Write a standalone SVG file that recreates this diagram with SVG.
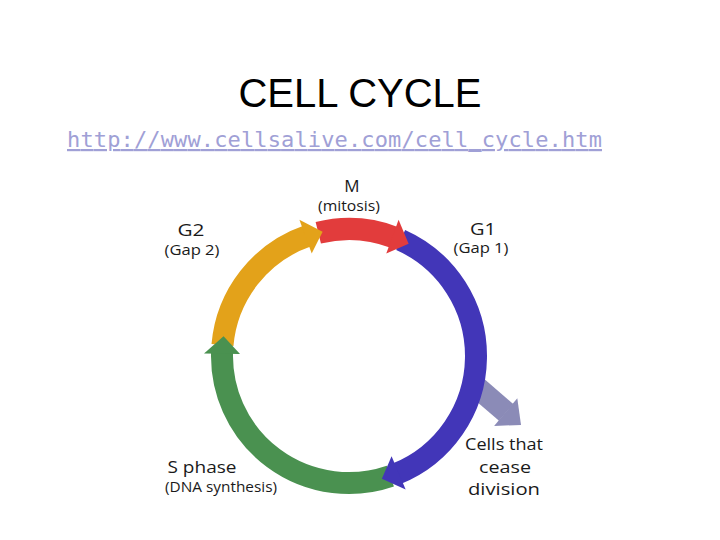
<svg xmlns="http://www.w3.org/2000/svg" width="720" height="540" viewBox="0 0 720 540">
<style>
.title{font-family:"Liberation Sans",Arial,sans-serif;font-size:40px;fill:#000}
.url{font-family:"DejaVu Sans Mono","Liberation Mono",monospace;font-size:22px;fill:#a0a0d6;text-decoration:underline}
.lbl{font-family:"Open Sans","Liberation Sans",sans-serif;font-size:17px;fill:#1a1a1a}
.sub{font-family:"Open Sans","Liberation Sans",sans-serif;font-size:14px;fill:#1a1a1a}
.arc{fill:none;stroke-width:22;stroke-linecap:butt}
</style>
<rect width="720" height="540" fill="#fff"/>
<text class="title" x="360" y="107" text-anchor="middle">CELL CYCLE</text>
<text class="url" x="67" y="147" textLength="535" lengthAdjust="spacing">http://www.cellsalive.com/cell_cycle.htm</text>

<g id="connectors">
  <g id="exit-arrow" fill="#8b8bb7">
    <polygon points="464.9,391.4 479.1,374.6 513.2,404.0 499.0,420.8"/>
    <polygon points="494.1,425.9 517.3,398.3 521,425"/>
  </g>
  <g id="ring-bodies">
    <path class="arc" stroke="#e23c3c" d="M318.28,232.77 A127,127 0 0 1 394.51,237.44"/>
    <path class="arc" stroke="#4236b8" d="M400.65,239.98 A127,127 0 0 1 396.57,473.75"/>
    <path class="arc" stroke="#4a9150" d="M390.35,476.08 A127,127 0 0 1 222.08,351.57"/>
    <path class="arc" stroke="#e3a21a" d="M222.48,344.93 A127,127 0 0 1 307.65,235.92"/>
  </g>
  <g id="ring-heads">
    <polygon fill="#e23c3c" points="386.28,253.57 398.59,219.74 408.62,243.87"/>
    <polygon fill="#4236b8" points="391.59,456.33 405.65,489.47 381.87,478.67"/>
    <polygon fill="#4a9150" points="240.02,354.10 204.02,353.47 223.56,336.13"/>
    <polygon fill="#e3a21a" points="311.72,253.57 299.41,219.74 322.60,231.78"/>
  </g>
</g>

<g id="node-m">
  <text class="lbl" x="352" y="192" text-anchor="middle">M</text>
  <text class="sub" x="349" y="211" text-anchor="middle" font-size="13" textLength="62" lengthAdjust="spacingAndGlyphs">(mitosis)</text>
</g>
<g id="node-g2">
  <text class="lbl" x="191" y="236" text-anchor="middle" textLength="27" lengthAdjust="spacingAndGlyphs">G2</text>
  <text class="sub" x="192" y="255" text-anchor="middle" textLength="55" lengthAdjust="spacingAndGlyphs">(Gap 2)</text>
</g>
<g id="node-g1">
  <text class="lbl" x="483" y="235" text-anchor="middle" textLength="26" lengthAdjust="spacingAndGlyphs">G1</text>
  <text class="sub" x="481" y="253" text-anchor="middle" textLength="55" lengthAdjust="spacingAndGlyphs">(Gap 1)</text>
</g>
<g id="node-s">
  <text class="lbl" x="202" y="473" text-anchor="middle" textLength="69" lengthAdjust="spacingAndGlyphs">S phase</text>
  <text class="sub" x="221" y="492" text-anchor="middle" textLength="112" lengthAdjust="spacingAndGlyphs">(DNA synthesis)</text>
</g>
<g id="node-cease">
  <text class="lbl" x="504" y="450" text-anchor="middle" textLength="78" lengthAdjust="spacingAndGlyphs">Cells that</text>
  <text class="lbl" x="505" y="473" text-anchor="middle" textLength="52" lengthAdjust="spacingAndGlyphs">cease</text>
  <text class="lbl" x="504" y="495" text-anchor="middle" textLength="72" lengthAdjust="spacingAndGlyphs">division</text>
</g>
</svg>
